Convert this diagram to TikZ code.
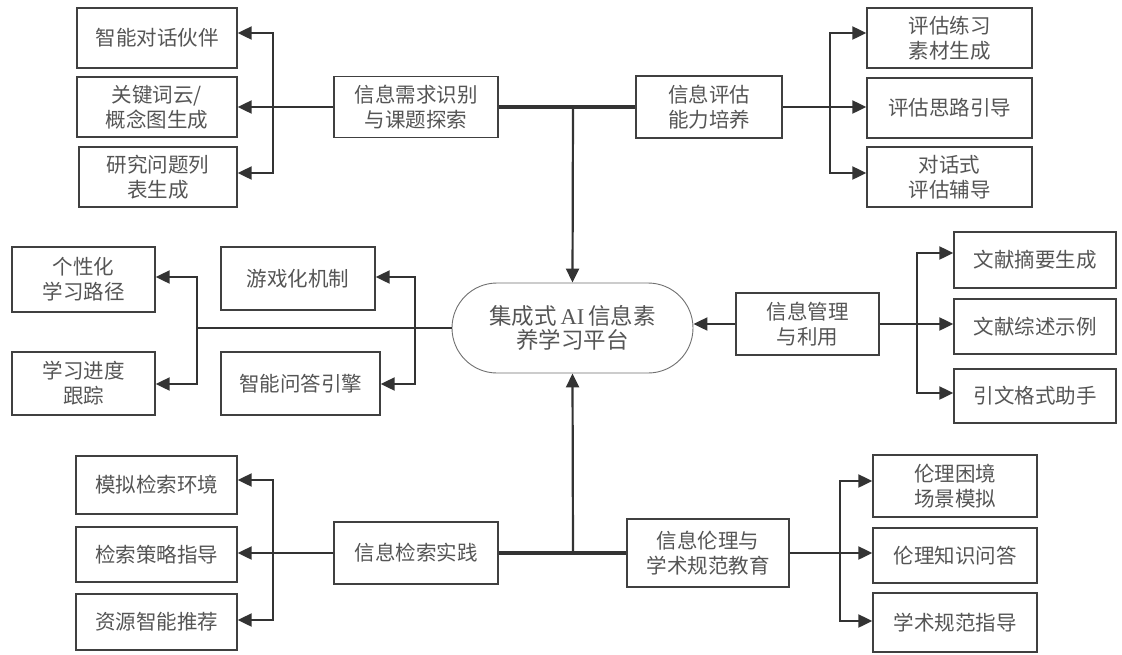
\documentclass[tikz,border=0pt]{standalone}
\usepackage{fontspec}
\setmainfont{Noto Sans CJK SC}
\newfontfamily\latf{Liberation Serif}
\usetikzlibrary{arrows.meta,calc}
\definecolor{linec}{HTML}{333333}
\definecolor{boxc}{HTML}{404040}
\definecolor{txtc}{HTML}{555555}
\definecolor{elc}{HTML}{707070}
\begin{document}
\begin{tikzpicture}[x=1pt,y=-1pt,
  box/.style={draw=boxc, line width=1.4pt, rectangle, align=center, inner sep=0pt,
    text=txtc, font=\fontsize{20.5}{25}\selectfont},
  hub/.style={draw=elc, line width=0.9pt, rectangle, rounded corners=45pt, align=center,
    inner sep=0pt, text=txtc, font=\fontsize{22.5}{24.5}\selectfont,
    minimum width=241pt, minimum height=90pt},
  ln/.style={draw=linec, line width=2.2pt},
  thk/.style={draw=linec, line width=3.8pt},
  arr/.style={ln, -{Triangle[length=14pt,width=13pt]}},
  brk/.style={ln, {Triangle[length=14pt,width=13pt]}-{Triangle[length=14pt,width=13pt]}}]
\useasboundingbox[fill=white] (0,0) rectangle (1122,654);

% hub
\node[hub] (E) at (572.5,328) {集成式\hspace{4pt}{\latf AI}\hspace{4pt}信息素\\养学习平台};

% top-left
\node[box, minimum width=160pt, minimum height=60pt] (A1) at (157,38) {智能对话伙伴};
\node[box, minimum width=160pt, minimum height=60pt] (A2) at (157,107) {关键词云/\\概念图生成};
\node[box, minimum width=158pt, minimum height=60pt] (A3) at (158,177) {研究问题列\\表生成};
\node[box, minimum width=164pt, minimum height=61pt] (A) at (416,107) {信息需求识别\\与课题探索};

% top-right
\node[box, minimum width=146pt, minimum height=62pt] (B) at (709,107) {信息评估\\能力培养};
\node[box, minimum width=165pt, minimum height=60pt] (B1) at (949.5,38) {评估练习\\素材生成};
\node[box, minimum width=165pt, minimum height=60pt] (B2) at (949.5,108) {评估思路引导};
\node[box, minimum width=165pt, minimum height=60pt] (B3) at (949.5,177) {对话式\\评估辅导};

% middle-left
\node[box, minimum width=143pt, minimum height=65pt] (C1) at (83.5,279.5) {个性化\\学习路径};
\node[box, minimum width=143pt, minimum height=63pt] (C2) at (83.5,383.5) {学习进度\\跟踪};
\node[box, minimum width=154pt, minimum height=63pt] (D1) at (298,278.5) {游戏化机制};
\node[box, minimum width=159pt, minimum height=63pt] (D2) at (300.5,383.5) {智能问答引擎};

% middle-right
\node[box, minimum width=143pt, minimum height=62pt] (F) at (807.5,324) {信息管理\\与利用};
\node[box, minimum width=162pt, minimum height=56pt] (F1) at (1035,260) {文献摘要生成};
\node[box, minimum width=162pt, minimum height=55pt] (F2) at (1035,326.5) {文献综述示例};
\node[box, minimum width=162pt, minimum height=54pt] (F3) at (1035,396) {引文格式助手};

% bottom-left
\node[box, minimum width=161pt, minimum height=58pt] (G1) at (156.5,485) {模拟检索环境};
\node[box, minimum width=161pt, minimum height=55pt] (G2) at (156.5,554.5) {检索策略指导};
\node[box, minimum width=161pt, minimum height=56pt] (G3) at (156.5,622) {资源智能推荐};
\node[box, minimum width=164pt, minimum height=62pt] (G) at (416,553) {信息检索实践};

% bottom-right
\node[box, minimum width=162pt, minimum height=68pt] (H) at (708,553) {信息伦理与\\学术规范教育};
\node[box, minimum width=164pt, minimum height=62pt] (H1) at (955,486) {伦理困境\\场景模拟};
\node[box, minimum width=164pt, minimum height=55pt] (H2) at (955,555.5) {伦理知识问答};
\node[box, minimum width=164pt, minimum height=59pt] (H3) at (955,622.5) {学术规范指导};

% bracket coordinates
\coordinate (Ab1) at (273,33);  \coordinate (Ab2) at (273,173);
\coordinate (Bb1) at (830,33);  \coordinate (Bb2) at (830,173);
\coordinate (Cb1) at (197,277); \coordinate (Cb2) at (197,384); \coordinate (Cb) at (197,330);
\coordinate (Db1) at (415,277); \coordinate (Db2) at (415,384);
\coordinate (Fb1) at (917,253); \coordinate (Fb2) at (917,393);
\coordinate (Gb1) at (273,480); \coordinate (Gb2) at (273,620);
\coordinate (Hb1) at (840,481); \coordinate (Hb2) at (840,621);
\coordinate (T) at (573,107);
\coordinate (S) at (573,553);

% main spine
\draw[thk] (A.east) -- (A.east -| B.west);
\draw[thk] (G.east) -- (G.east -| H.west);
\draw[arr] (T) -- (E.north);
\draw[arr] (S) -- (E.south);
\draw[arr] (F.west) -- (F.west -| E.east);
\draw[ln] (E.west) -- (E.west -| Cb);

% branches
\draw[arr] (A.west) -- (A.west -| A2.east);
\draw[brk] (Ab1 -| A1.east) -- (Ab1) -- (Ab2) -- (Ab2 -| A3.east);

\draw[arr] (B.east) -- (B.east -| B2.west);
\draw[brk] (Bb1 -| B1.west) -- (Bb1) -- (Bb2) -- (Bb2 -| B3.west);

\draw[brk] (Cb1 -| C1.east) -- (Cb1) -- (Cb2) -- (Cb2 -| C2.east);
\draw[brk] (Db1 -| D1.east) -- (Db1) -- (Db2) -- (Db2 -| D2.east);

\draw[arr] (F.east) -- (F.east -| F2.west);
\draw[brk] (Fb1 -| F1.west) -- (Fb1) -- (Fb2) -- (Fb2 -| F3.west);

\draw[arr] (G.west) -- (G.west -| G2.east);
\draw[brk] (Gb1 -| G1.east) -- (Gb1) -- (Gb2) -- (Gb2 -| G3.east);

\draw[arr] (H.east) -- (H.east -| H2.west);
\draw[brk] (Hb1 -| H1.west) -- (Hb1) -- (Hb2) -- (Hb2 -| H3.west);
\end{tikzpicture}
\end{document}
